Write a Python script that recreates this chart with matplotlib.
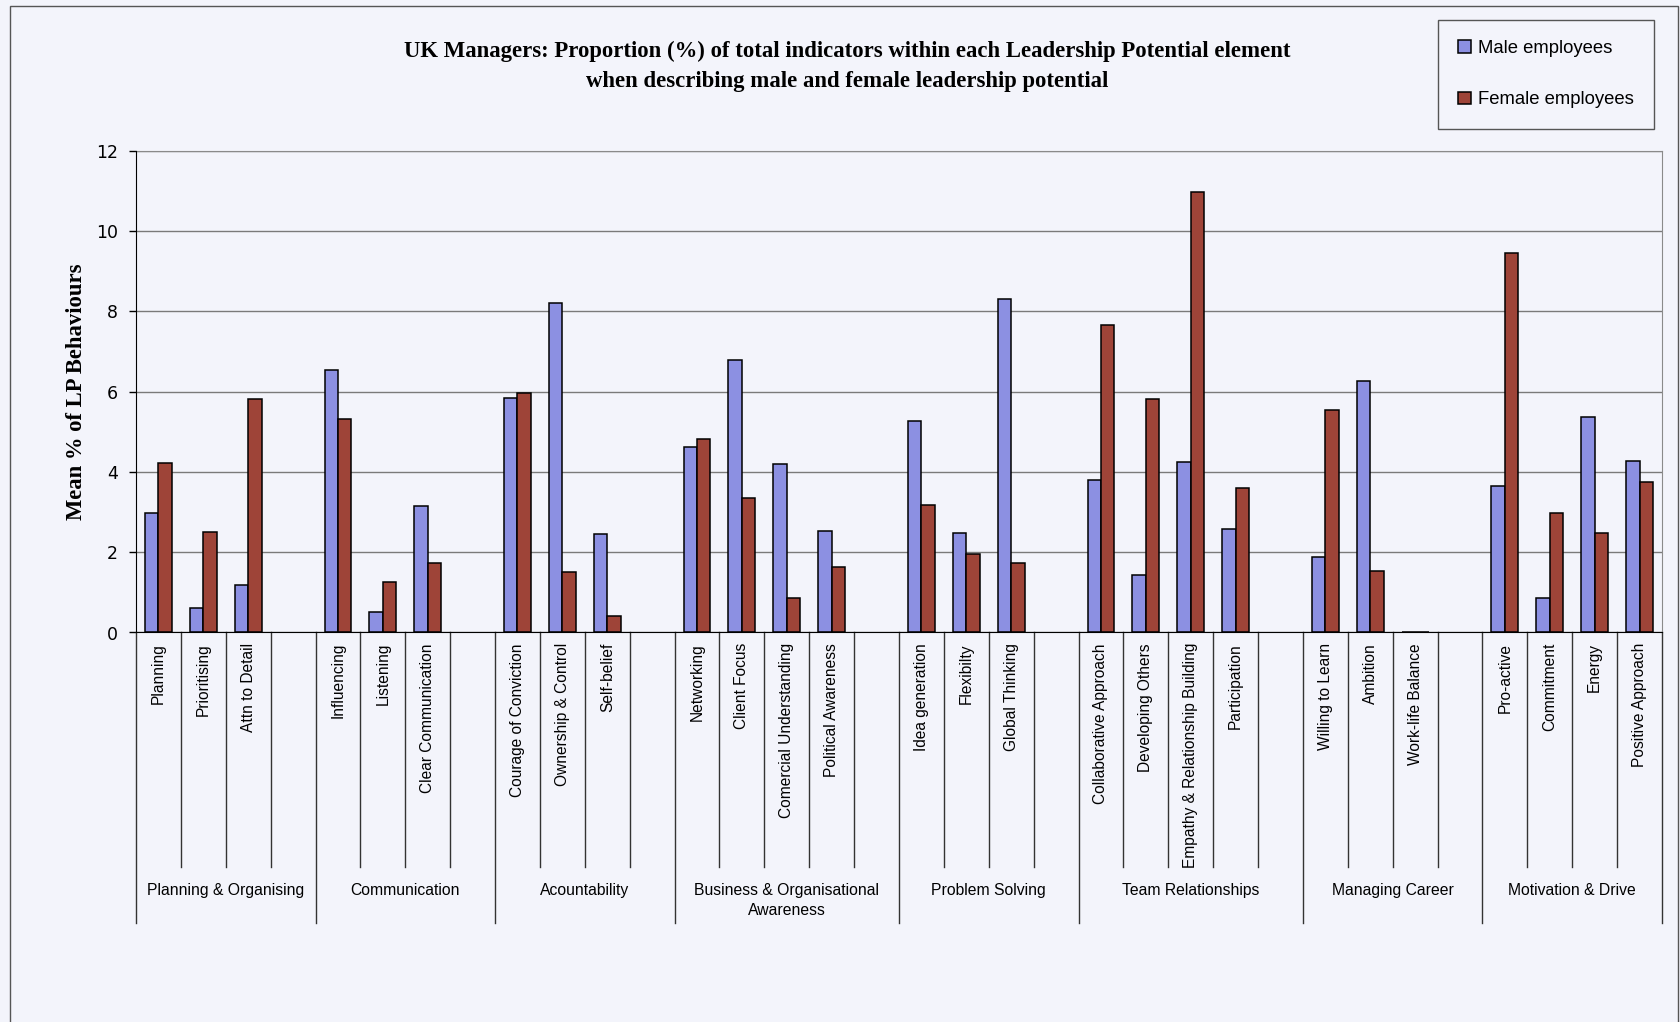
import matplotlib
matplotlib.use("Agg")
import matplotlib.pyplot as plt
from matplotlib.patches import Rectangle
import numpy as np

nan = np.nan

title_line1 = "UK Managers: Proportion (%) of total indicators within each Leadership Potential element"
title_line2 = "when describing male and female leadership potential"
y_label = "Mean % of LP Behaviours"

# one slot per behaviour, "" = empty spacer slot after each element
behaviours = [
    "Planning", "Prioritising", "Attn to Detail", "",
    "Influencing", "Listening", "Clear Communication", "",
    "Courage of Conviction", "Ownership & Control", "Self-belief", "",
    "Networking", "Client Focus", "Comercial Understanding", "Political Awareness", "",
    "Idea generation", "Flexibilty", "Global Thinking", "",
    "Collaborative Approach", "Developing Others", "Empathy & Relationship Building", "Participation", "",
    "Willing to Learn", "Ambition", "Work-life Balance", "",
    "Pro-active", "Commitment", "Energy", "Positive Approach",
]
male = [2.97, 0.62, 1.18, nan,
        6.53, 0.51, 3.16, nan,
        5.84, 8.22, 2.46, nan,
        4.63, 6.79, 4.19, 2.53, nan,
        5.28, 2.49, 8.32, nan,
        3.79, 1.43, 4.26, 2.57, nan,
        1.88, 6.28, 0.0, nan,
        3.65, 0.85, 5.37, 4.27]
female = [4.23, 2.50, 5.81, nan,
          5.33, 1.25, 1.73, nan,
          5.97, 1.50, 0.41, nan,
          4.82, 3.34, 0.85, 1.62, nan,
          3.18, 1.96, 1.74, nan,
          7.67, 5.81, 10.97, 3.60, nan,
          5.55, 1.54, 0.0, nan,
          9.47, 2.98, 2.48, 3.76]

elements = ["Planning & Organising", "Communication", "Acountability",
            "Business & Organisational\nAwareness", "Problem Solving",
            "Team Relationships", "Managing Career", "Motivation & Drive"]
element_slots = [4, 4, 4, 5, 4, 5, 4, 4]

series_names = ["Male employees", "Female employees"]
male_color = "#8c90e2"
female_color = "#9e4438"
bg = "#f3f4fb"

W, H = 1681, 1022
fig = plt.figure(figsize=(W / 100, H / 100), dpi=100, facecolor=bg)

# outer chart border
fig.add_artist(Rectangle((10 / W, -0.05), (1678 - 10) / W, 1.05 - 6 / H,
                         transform=fig.transFigure, fill=False,
                         edgecolor="#555555", lw=1))

ax = fig.add_axes([136 / W, 1 - 632.5 / H, (1662 - 136) / W, (632.5 - 151) / H])
ax.set_facecolor(bg)

x = np.arange(len(behaviours)) + 0.5
w = 0.30
ax.bar(x - w / 2, male, w, color=male_color, edgecolor="black", lw=1.1,
       label=series_names[0], zorder=3)
ax.bar(x + w / 2, female, w, color=female_color, edgecolor="black", lw=1.1,
       label=series_names[1], zorder=3)

ax.set_xlim(0, len(behaviours))
ax.set_ylim(0, 12)
ax.set_yticks(range(0, 13, 2))
ax.set_xticks([])
ax.tick_params(axis="y", direction="out", length=5, width=1, pad=8, labelsize=12.5)
ax.yaxis.grid(True, color="#7a7a7a", lw=1, zorder=0)
ax.set_axisbelow(True)
for s in ["top", "right"]:
    ax.spines[s].set_color("#8a8a8a")
for s in ["left", "bottom"]:
    ax.spines[s].set_color("black")
    ax.spines[s].set_zorder(4)

# multi-level category axis
tr = ax.get_xaxis_transform()
for xi, lab in zip(x, behaviours):
    if lab:
        ax.text(xi, -0.022, lab, transform=tr, rotation=90, ha="center", va="top",
                fontsize=11.2, family="Liberation Sans")

edges = np.concatenate([[0], np.cumsum(element_slots)])
for b in range(len(behaviours) + 1):
    y_end = -0.603 if b in edges else -0.487
    ax.plot([b, b], [0, y_end], transform=tr, color="#333333", lw=1, clip_on=False)

for name, a, b in zip(elements, edges[:-1], edges[1:]):
    ax.text((a + b) / 2, -0.52, name, transform=tr, ha="center", va="top",
            fontsize=11.3, family="Liberation Sans", linespacing=1.45)

fig.text(847 / W, 1 - 51 / H, title_line1, ha="center", va="center",
         family="Liberation Serif", weight="bold", fontsize=16.4)
fig.text(847 / W, 1 - 82 / H, title_line2, ha="center", va="center",
         family="Liberation Serif", weight="bold", fontsize=16.4)
fig.text(77 / W, 1 - 392 / H, y_label, rotation=90, ha="center", va="center",
         family="Liberation Serif", weight="bold", fontsize=16.3)

leg = fig.legend(loc="upper right", bbox_to_anchor=(1654 / W, 1 - 20 / H),
                 frameon=True, fancybox=False, shadow=False, edgecolor="#555555",
                 facecolor=bg, framealpha=1, prop={"family": "Liberation Sans", "size": 13.3},
                 handlelength=0.7, handleheight=0.7, handletextpad=0.35,
                 labelspacing=1.85, borderpad=1.1, borderaxespad=0)
leg.get_frame().set_linewidth(1)

fig.savefig("out.png", dpi=100, facecolor=bg)
